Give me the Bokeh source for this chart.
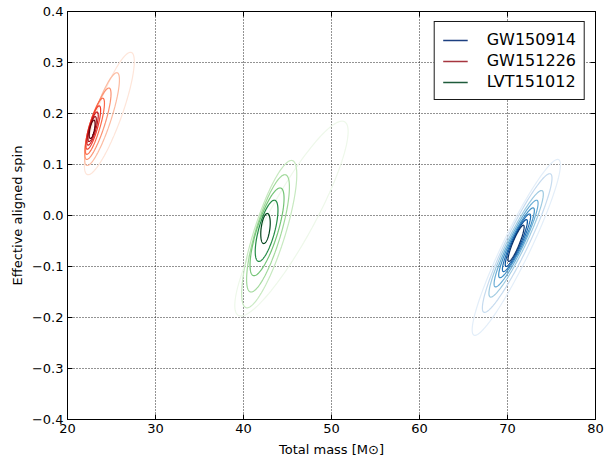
import numpy as np
from bokeh.plotting import figure
from bokeh.models import (Range1d, LinearAxis, FixedTicker, CustomJSTickFormatter,
                          Legend, LegendItem, ColumnDataSource)
from bokeh.embed import file_html
from bokeh.resources import INLINE

# ---------------- data ----------------
event_names = ["GW150914", "GW151226", "LVT151012"]
x_ticks = [20, 30, 40, 50, 60, 70, 80]
y_ticks = [-0.4, -0.3, -0.2, -0.1, 0.0, 0.1, 0.2, 0.3, 0.4]

# contour lines, outermost -> innermost: topmost point, bottommost point,
# and horizontal half-width through the middle (total mass, spin units)
gw150914_top_x = [75.7, 74.8, 73.86, 73.3, 72.9, 72.5, 72.15, 71.8]
gw150914_top_y = [0.110, 0.082, 0.049, 0.030, 0.015, 0.003, -0.008, -0.019]
gw150914_bottom_x = [66.3, 67.4, 68.1, 68.65, 69.15, 69.55, 69.85, 70.15]
gw150914_bottom_y = [-0.235, -0.190, -0.160, -0.140, -0.122, -0.110, -0.100, -0.090]
gw150914_half_width = [1.75, 1.4, 1.12, 0.92, 0.77, 0.63, 0.51, 0.4]

gw151226_top_x = [27.16, 25.6, 24.7, 24.0, 23.6, 23.35, 23.15, 23.0]
gw151226_top_y = [0.320, 0.280, 0.250, 0.230, 0.215, 0.203, 0.194, 0.187]
gw151226_bottom_x = [22.35, 22.25, 22.2, 22.2, 22.25, 22.35, 22.45, 22.6]
gw151226_bottom_y = [0.080, 0.098, 0.110, 0.120, 0.130, 0.138, 0.145, 0.151]
gw151226_half_width = [1.5, 1.05, 0.82, 0.63, 0.5, 0.4, 0.32, 0.26]

lvt151012_top_x = [51.2, 45.45, 44.7, 44.15, 43.5, 42.7]
lvt151012_top_y = [0.185, 0.108, 0.080, 0.054, 0.030, 0.004]
lvt151012_bottom_x = [39.7, 40.4, 40.87, 41.2, 41.75, 42.3]
lvt151012_bottom_y = [-0.197, -0.181, -0.150, -0.118, -0.090, -0.055]
lvt151012_half_width = [2.9, 1.85, 1.5, 1.25, 0.95, 0.5]

# ---------------- styles ----------------
blue_levels = ['#e3eef9', '#c6dbef', '#9ecae1', '#6baed6', '#4292c6', '#2171b5', '#08519c', '#08306b']
red_levels = ['#fee5d9', '#fcbba1', '#fc9272', '#fb6a4a', '#ef3b2c', '#cb181d', '#a50f15', '#67000d']
green_levels = ['#eef8ea', '#c7e9c0', '#a1d99b', '#74c476', '#238b45', '#00441b']
legend_colors = ['#1c3f80', '#a6353f', '#1e5b3b']
FONT = "DejaVu Sans"


def contour_paths(tx, ty, bx, by, hw, n=160):
    t = np.linspace(0, 2 * np.pi, n)
    xs, ys = [], []
    for a, b, c, d, w in zip(tx, ty, bx, by, hw):
        cx, cy = (a + c) / 2, (b + d) / 2
        ax, ay = (a - c) / 2, (b - d) / 2
        xs.append(list(cx + ax * np.cos(t) + w * np.sin(t)))
        ys.append(list(cy + ay * np.cos(t)))
    return xs, ys


p = figure(width=605, height=459, x_range=Range1d(20, 80), y_range=Range1d(-0.4, 0.4),
           output_backend="svg", toolbar_location=None,
           min_border_left=67, min_border_right=10, min_border_top=11, min_border_bottom=39)
p.background_fill_color = "white"
p.border_fill_color = "white"
p.outline_line_color = "black"
p.outline_line_width = 1

xt = FixedTicker(ticks=x_ticks)
yt = FixedTicker(ticks=y_ticks)
p.xaxis.ticker = xt
p.yaxis.ticker = yt
p.yaxis.formatter = CustomJSTickFormatter(code="""
var v = Math.abs(tick) < 1e-9 ? 0 : tick;
return v.toFixed(1).replace('-', '\u2212');
""")
p.xaxis.axis_label = "Total mass [M\u2299]"
p.yaxis.axis_label = "Effective aligned spin"

for ax in [p.xaxis[0], p.yaxis[0]]:
    ax.major_tick_in = 5
    ax.major_tick_out = 0
    ax.minor_tick_in = 0
    ax.minor_tick_out = 0
    ax.axis_line_color = "black"
    ax.major_tick_line_color = "black"
    ax.major_label_text_font = FONT
    ax.major_label_text_font_size = "13px"
    ax.major_label_text_color = "black"
    ax.axis_label_text_font = FONT
    ax.axis_label_text_font_size = "13px"
    ax.axis_label_text_font_style = "normal"
    ax.axis_label_text_color = "black"
    ax.major_label_standoff = 4
    ax.axis_label_standoff = 4
p.xaxis[0].axis_label_standoff = 6

for loc, tk in (("above", xt), ("right", yt)):
    a = LinearAxis(ticker=tk, major_tick_in=5, major_tick_out=0, minor_tick_in=0,
                   minor_tick_out=0, major_label_text_font_size="0px",
                   major_label_standoff=0, axis_line_color="black",
                   formatter=CustomJSTickFormatter(code="return '';"))
    p.add_layout(a, loc)

for g, tk in ((p.xgrid[0], xt), (p.ygrid[0], yt)):
    g.ticker = tk
    g.grid_line_color = "black"
    g.grid_line_dash = "1 2"
    g.grid_line_width = 1
    g.grid_line_alpha = 0.85

sets = [
    (gw150914_top_x, gw150914_top_y, gw150914_bottom_x, gw150914_bottom_y, gw150914_half_width, blue_levels),
    (gw151226_top_x, gw151226_top_y, gw151226_bottom_x, gw151226_bottom_y, gw151226_half_width, red_levels),
    (lvt151012_top_x, lvt151012_top_y, lvt151012_bottom_x, lvt151012_bottom_y, lvt151012_half_width, green_levels),
]
for tx, ty, bx, by, hw, cols in sets:
    xs, ys = contour_paths(tx, ty, bx, by, hw)
    src = ColumnDataSource(dict(xs=xs, ys=ys, color=cols))
    p.multi_line(xs="xs", ys="ys", line_color="color", line_width=1.2, source=src)

# legend proxies (no visible data)
items = []
for name, c in zip(event_names, legend_colors):
    r = p.line(x=[np.nan], y=[np.nan], line_color=c, line_width=1.3)
    items.append(LegendItem(label=name, renderers=[r]))
legend = Legend(items=items, location="top_right")
legend.label_text_font = FONT
legend.label_text_font_size = "16px"
legend.label_text_color = "black"
legend.glyph_width = 25
legend.glyph_height = 18
legend.label_height = 18
legend.label_standoff = 19
legend.spacing = 2
legend.padding = 8
legend.margin = 10
legend.border_line_color = "black"
legend.border_line_width = 1
legend.border_line_alpha = 0.9
legend.background_fill_color = "white"
legend.background_fill_alpha = 1
p.add_layout(legend, "center")

open("out.html", "w").write(file_html(p, INLINE))
